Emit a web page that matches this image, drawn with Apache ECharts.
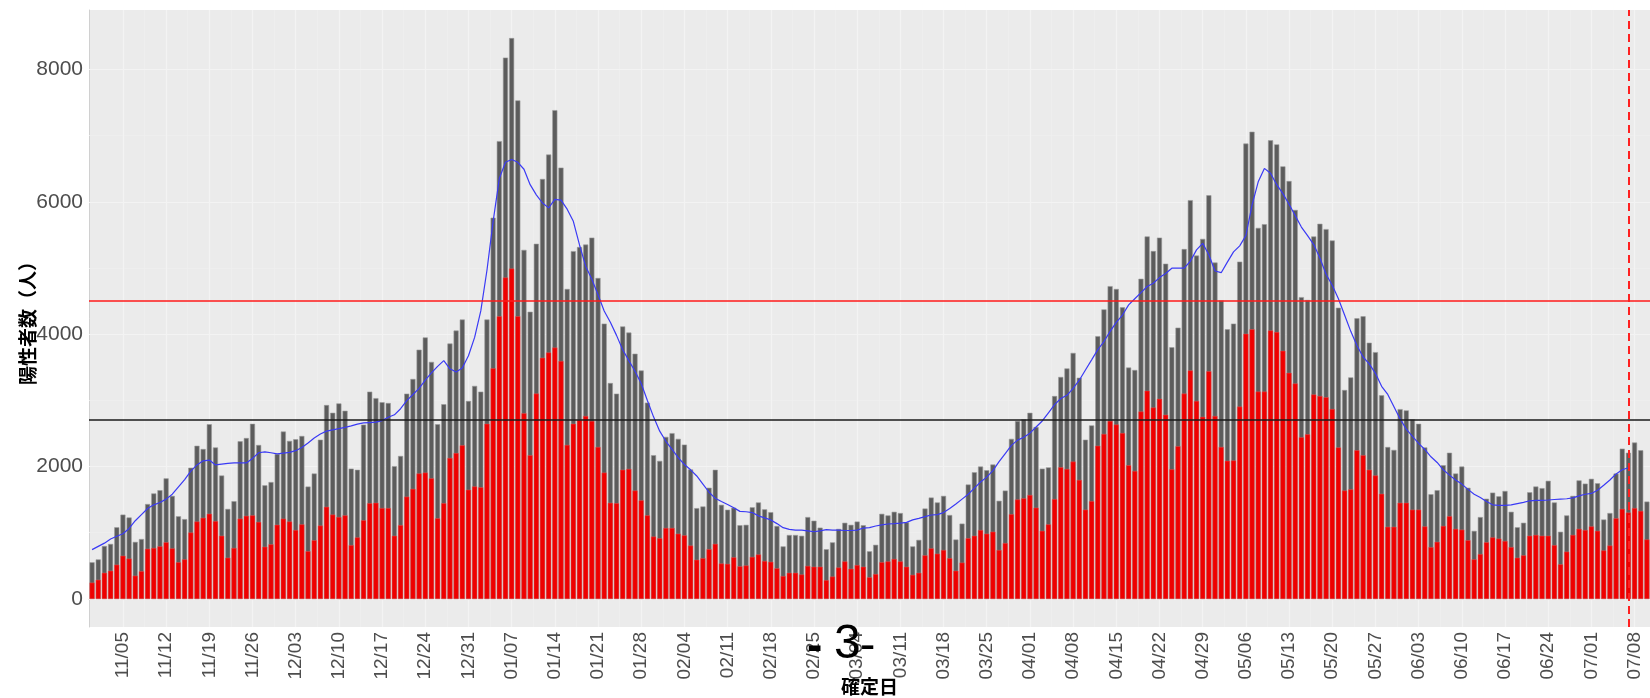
<!DOCTYPE html>
<html>
<head>
<meta charset="utf-8">
<script src="https://cdn.jsdelivr.net/npm/echarts@6/dist/echarts.min.js"></script>
<style>
  html, body { margin: 0; padding: 0; background: #fff; }
  #chart { width: 1650px; height: 698px; }
</style>
</head>
<body>
<div id="chart"></div>
<script>
// daily positives by confirmed date, 2020-10-31 .. 2021-07-10
const totals = [
  554, 597, 800, 831, 1083, 1274, 1231, 862, 905, 1434, 1594, 1643, 1822, 1557, 1249, 1206,
  1982, 2314, 2265, 2640, 2289, 1865, 1360, 1477, 2382, 2431, 2646, 2326, 1717, 1766, 2191,
  2529, 2388, 2412, 2462, 1698, 1895, 2406, 2929, 2812, 2954, 2843, 1969, 1951, 2634, 3132,
  3034, 2972, 2960, 2006, 2160, 3102, 3323, 3766, 3951, 3582, 2640, 2942, 3859, 4055, 4222,
  2991, 3219, 3132, 4222, 5760, 6917, 8179, 8474, 7532, 5274, 4339, 5366, 6345, 6714, 7385,
  6517, 4683, 5255, 5317, 5354, 5459, 4849, 4160, 3262, 3102, 4117, 4025, 3705, 3452, 2966,
  2172, 2086, 2449, 2505, 2419, 2332, 1957, 1372, 1397, 1680, 1951, 1422, 1348, 1378, 1114,
  1120, 1385, 1458, 1354, 1311, 1102, 794, 966, 966, 954, 1237, 1182, 1077, 751, 855,
  1058, 1151, 1120, 1169, 1114, 720, 818, 1286, 1262, 1317, 1298, 1157, 794, 892, 1366,
  1532, 1458, 1557, 1268, 898, 1138, 1729, 1914, 2000, 1945, 2031, 1483, 1637, 2419, 2689,
  2714, 2812, 2597, 1969, 1988, 3065, 3354, 3483, 3717, 3342, 2406, 2622, 3969, 4375, 4726,
  4683, 4406, 3496, 3459, 4837, 5477, 5256, 5459, 5065, 3803, 4099, 5286, 6025, 5188, 5440,
  6099, 5083, 4511, 4074, 4160, 5096, 6880, 7059, 5606, 5662, 6929, 6868, 6536, 6314, 5877,
  4560, 4517, 5477, 5668, 5588, 5416, 4400, 3157, 3348, 4240, 4271, 3871, 3729, 3077, 2295,
  2252, 2868, 2849, 2714, 2646, 2289, 1582, 1643, 2019, 2209, 1895, 2000, 1680, 1028, 1237,
  1514, 1606, 1551, 1631, 1317, 1083, 1151, 1612, 1699, 1674, 1785, 1458, 1015, 1262, 1557,
  1791, 1742, 1815, 1748, 1200, 1298, 1895, 2271, 2209, 2363, 2246, 1471
];

const redPart = [
  246, 289, 394, 425, 517, 652, 609, 351, 418, 757, 769, 794, 855, 763, 554, 597,
  1003, 1169, 1225, 1286, 1175, 954, 622, 769, 1212, 1255, 1262, 1163, 788, 825, 1120,
  1212, 1169, 1040, 1126, 720, 886, 1108, 1391, 1274, 1237, 1262, 812, 929, 1188, 1446,
  1452, 1372, 1372, 954, 1114, 1545, 1662, 1895, 1908, 1822, 1218, 1446, 2129, 2203, 2320,
  1649, 1699, 1686, 2646, 3483, 4271, 4856, 4991, 4271, 2806, 2172, 3102, 3643, 3723, 3797,
  3594, 2326, 2646, 2702, 2763, 2689, 2295, 1908, 1452, 1446, 1951, 1963, 1637, 1489, 1262,
  942, 917, 1071, 1071, 985, 960, 806, 591, 615, 751, 831, 535, 529, 628, 492,
  505, 634, 671, 572, 560, 462, 345, 394, 394, 369, 498, 486, 486, 283, 338,
  474, 566, 455, 511, 486, 326, 375, 554, 566, 603, 566, 486, 363, 394, 658,
  763, 683, 738, 615, 425, 548, 917, 954, 1040, 985, 1015, 738, 843, 1280, 1502,
  1520, 1569, 1378, 1028, 1126, 1508, 1988, 1963, 2074, 1797, 1348, 1477, 2314, 2492, 2689,
  2634, 2505, 2019, 1932, 2831, 3145, 2892, 3022, 2782, 1957, 2308, 3102, 3452, 2991, 2751,
  3440, 2763, 2295, 2086, 2092, 2905, 4006, 4074, 3132, 3132, 4056, 4031, 3748, 3415, 3255,
  2443, 2486, 3089, 3065, 3046, 2868, 2289, 1637, 1655, 2246, 2172, 1951, 1865, 1588, 1089,
  1089, 1452, 1452, 1348, 1348, 1095, 782, 862, 1102, 1249, 1058, 1046, 886, 597, 677,
  855, 929, 911, 874, 782, 622, 658, 954, 966, 954, 954, 812, 523, 714, 966,
  1058, 1040, 1095, 1028, 732, 806, 1218, 1360, 1305, 1372, 1329, 898
];

// 7-day average line as drawn (ends on 07/07)
const avgLine = [
  745, 794, 843, 905, 948, 985, 1065, 1182, 1274, 1366, 1422, 1458, 1508, 1582, 1692, 1803,
  1932, 2025, 2086, 2098, 2025, 2037, 2049, 2055, 2055, 2055, 2123, 2209, 2222, 2209, 2191,
  2203, 2215, 2240, 2289, 2357, 2431, 2492, 2535, 2554, 2572, 2591, 2615, 2640, 2659, 2665,
  2671, 2695, 2745, 2782, 2874, 2997, 3089, 3182, 3305, 3415, 3514, 3600, 3477, 3428, 3489,
  3674, 3951, 4351, 4966, 5705, 6351, 6597, 6640, 6597, 6492, 6259, 6105, 5982, 5908, 6037,
  6025, 5889, 5705, 5348, 5028, 4831, 4597, 4351, 4179, 3982, 3766, 3600, 3440, 3255, 2997,
  2751, 2535, 2382, 2258, 2135, 2031, 1951, 1858, 1735, 1612, 1520, 1471, 1428, 1378, 1323,
  1317, 1305, 1255, 1225, 1194, 1138, 1077, 1052, 1040, 1040, 1028, 1015, 1028, 1046, 1040,
  1040, 1034, 1034, 1040, 1071, 1077, 1102, 1120, 1132, 1138, 1145, 1157, 1194, 1218, 1243,
  1268, 1274, 1305, 1366, 1434, 1508, 1582, 1674, 1766, 1840, 1939, 2074, 2197, 2320, 2400,
  2443, 2505, 2597, 2689, 2812, 2935, 3028, 3077, 3182, 3305, 3459, 3612, 3766, 3889, 4043,
  4179, 4289, 4443, 4536, 4628, 4720, 4769, 4855, 4917, 4997, 4997, 4997, 5102, 5274, 5372,
  5200, 4954, 4929, 5089, 5243, 5335, 5489, 5951, 6302, 6505, 6431, 6259, 6123, 5963, 5791,
  5619, 5489, 5354, 5151, 4905, 4739, 4536, 4289, 4043, 3828, 3655, 3551, 3409, 3212, 3089,
  2905, 2720, 2566, 2455, 2351, 2258, 2148, 2062, 1951, 1871, 1797, 1735, 1655, 1582, 1532,
  1471, 1422, 1415, 1415, 1422, 1440, 1458, 1483, 1489, 1489, 1495, 1502, 1508, 1514, 1526,
  1557, 1582, 1594, 1643, 1717, 1797, 1889, 1951, 1982, null, null, null
];

const tickDates = [
  '11/05', '11/12', '11/19', '11/26', '12/03', '12/10', '12/17', '12/24', '12/31',
  '01/07', '01/14', '01/21', '01/28', '02/04', '02/11', '02/18', '02/25', '03/04',
  '03/11', '03/18', '03/25', '04/01', '04/08', '04/15', '04/22', '04/29', '05/06',
  '05/13', '05/20', '05/27', '06/03', '06/10', '06/17', '06/24', '07/01', '07/08'
];
const yTicks = [0, 2000, 4000, 6000, 8000];
const yMinor = [1000, 3000, 5000, 7000];
const redLevel = 4500;
const blackLevel = 2700;
const markDate = '07/07';

// category labels MM/DD from the first day
const dates = [];
const start = Date.UTC(2020, 9, 31);
for (let i = 0; i < totals.length; i++) {
  const d = new Date(start + i * 86400000);
  dates.push(String(d.getUTCMonth() + 1).padStart(2, '0') + '/' + String(d.getUTCDate()).padStart(2, '0'));
}
const isTick = (i) => tickDates.indexOf(dates[i]) >= 0;
const firstTick = dates.indexOf(tickDates[0]);

const gridLines = [];
yTicks.forEach(v => gridLines.push({ yAxis: v, lineStyle: { color: '#F3F3F3', width: 1.2, type: 'solid' } }));
yMinor.forEach(v => gridLines.push({ yAxis: v, lineStyle: { color: '#EFEFEF', width: 0.8, type: 'solid' } }));
tickDates.forEach(t => gridLines.push({ xAxis: t, lineStyle: { color: '#F3F3F3', width: 1.2, type: 'solid' } }));

const chart = echarts.init(document.getElementById('chart'));
chart.setOption({
  animation: false,
  backgroundColor: '#ffffff',
  textStyle: { fontFamily: 'Liberation Sans, Arial, sans-serif' },
  grid: {
    left: 89, right: 0, top: 10, bottom: 71,
    containLabel: false,
    outerBoundsMode: 'none',
    show: true, backgroundColor: '#EBEBEB', borderWidth: 0
  },
  xAxis: {
    type: 'category',
    data: dates,
    boundaryGap: true,
    name: '確定日',
    nameLocation: 'middle',
    nameMoveOverlap: false,
    nameGap: 50,
    nameTextStyle: { fontFamily: 'Noto Sans CJK JP', fontWeight: 'bold', fontSize: 19, color: '#000' },
    axisLine: { show: true, lineStyle: { color: '#D0D0D0', width: 1 } },
    axisTick: { show: false },
    splitLine: {
      show: true,
      interval: (i) => i > firstTick && (i - firstTick - 4) % 7 === 0,
      lineStyle: { color: '#EFEFEF', width: 0.8 }
    },
    axisLabel: {
      interval: (i) => isTick(i),
      rotate: 90,
      margin: 5,
      fontSize: 19,
      color: '#4D4D4D'
    }
  },
  yAxis: {
    type: 'value',
    min: -424,
    max: 8898,
    name: '陽性者数（人）',
    nameLocation: 'middle',
    nameMoveOverlap: false,
    nameRotate: 90,
    nameGap: 52,
    nameTextStyle: { fontFamily: 'Noto Sans CJK JP', fontWeight: 'bold', fontSize: 19, color: '#000' },
    axisLine: { show: true, lineStyle: { color: '#D0D0D0', width: 1 } },
    axisTick: { show: false },
    splitLine: { show: false },
    axisLabel: {
      customValues: yTicks,
      formatter: (v) => String(v),
      fontSize: 21,
      margin: 6,
      color: '#4D4D4D'
    }
  },
  series: [
    {
      type: 'line',
      data: [],
      z: 1,
      silent: true,
      markLine: {
        z: 1,
        silent: true,
        symbol: ['none', 'none'],
        label: { show: false },
        data: gridLines
      }
    },
    {
      name: 'total',
      type: 'bar',
      data: totals,
      z: 2,
      barCategoryGap: '18%',
      itemStyle: { color: '#5C5C5C', borderColor: '#9A9A9A', borderWidth: 0.6 }
    },
    {
      name: 'red',
      type: 'bar',
      data: redPart,
      z: 3,
      barGap: '-100%',
      itemStyle: { color: '#EE0000', borderColor: '#F06060', borderWidth: 0.4 }
    },
    {
      name: 'avg',
      type: 'line',
      data: avgLine,
      z: 4,
      showSymbol: false,
      connectNulls: false,
      lineStyle: { color: '#3A3AF5', width: 1.2 },
      markLine: {
        z: 6,
        silent: true,
        symbol: ['none', 'none'],
        label: { show: false },
        data: [
          { yAxis: redLevel, lineStyle: { color: '#FF1A1A', width: 1.6, type: 'solid' } },
          { yAxis: blackLevel, lineStyle: { color: '#1A1A1A', width: 1.6, type: 'solid' } },
          { xAxis: markDate, lineStyle: { color: '#FF2020', width: 2, type: [8, 5] } }
        ]
      }
    }
  ],
  graphic: [
    { type: 'text', left: 807, top: 624, z: 100,
      style: { text: '-', fontSize: 46, fontFamily: 'Liberation Sans', fontWeight: 'bold', fill: '#000' } },
    { type: 'text', left: 834, top: 621, z: 100,
      style: { text: '3', fontSize: 48, fontFamily: 'Liberation Sans', fill: '#000' } },
    { type: 'text', left: 860, top: 624, z: 100,
      style: { text: '-', fontSize: 46, fontFamily: 'Liberation Sans', fill: '#000' } }
  ]
});
</script>
</body>
</html>
